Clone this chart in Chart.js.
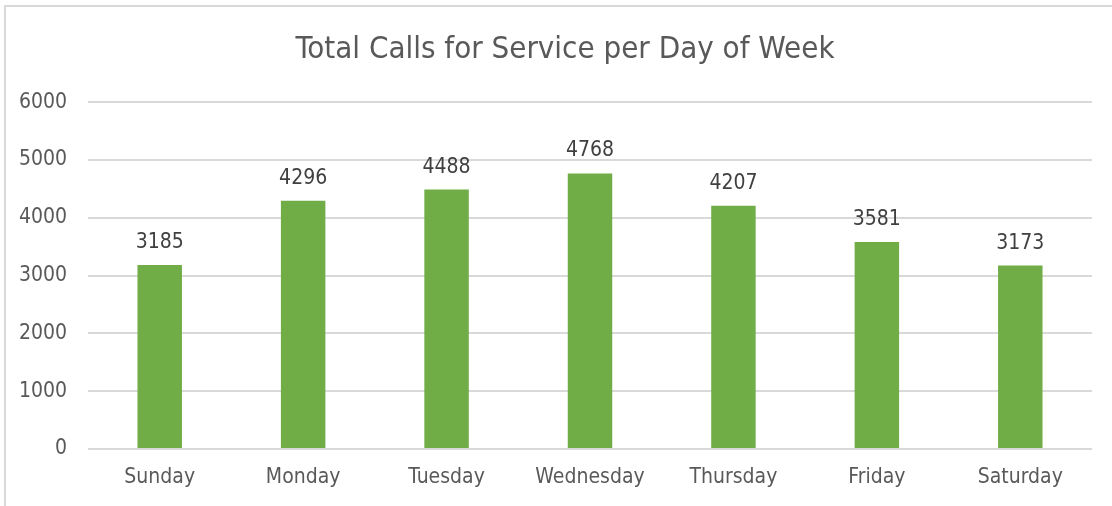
<!DOCTYPE html>
<html>
<head>
<meta charset="utf-8">
<script src="https://cdn.jsdelivr.net/npm/chart.js@4/dist/chart.umd.min.js"></script>
<style>
  html, body { margin: 0; padding: 0; background: #fff; }
  #wrap { position: relative; width: 1112px; height: 506px; }
</style>
</head>
<body>
<div id="wrap"><canvas id="calls"></canvas></div>
<script>
/*
    DATA
*/
const DAYS = ['Sunday', 'Monday', 'Tuesday', 'Wednesday', 'Thursday', 'Friday', 'Saturday'];
const CALLS = [3185, 4296, 4488, 4768, 4207, 3581, 3173];
const Y_TICKS = [0, 1000, 2000, 3000, 4000, 5000, 6000];

const FONT = '"Liberation Sans Narrow", "Arial Narrow", "DejaVu Sans Condensed", sans-serif';
const GREEN = '#70AD47';
const GRID = '#d9d9d9';

// value labels above each bar (no datalabels plugin available)
const barLabels = {
  id: 'barLabels',
  afterDatasetsDraw(chart) {
    const { ctx } = chart;
    const meta = chart.getDatasetMeta(0);
    ctx.save();
    ctx.font = `21px ${FONT}`;
    ctx.fillStyle = '#404040';
    ctx.textAlign = 'center';
    ctx.textBaseline = 'alphabetic';
    meta.data.forEach((bar, i) => {
      ctx.fillText(String(chart.data.datasets[0].data[i]), bar.x, bar.y - 17);
    });
    ctx.restore();
  }
};

// chart frame: only left and top edges are visible in the crop,
// and the title sits centred on the whole (wider) frame
const frame = {
  id: 'frame',
  afterLayout(chart) {
    if (chart.titleBlock) {
      chart.titleBlock.left += 38;
    }
  },
  beforeDraw(chart) {
    const { ctx, width, height } = chart;
    ctx.save();
    ctx.fillStyle = '#fff';
    ctx.fillRect(0, 0, width, height);
    ctx.strokeStyle = GRID;
    ctx.lineWidth = 2;
    ctx.beginPath();
    ctx.moveTo(5, height);
    ctx.lineTo(5, 6);
    ctx.lineTo(width, 6);
    ctx.stroke();
    ctx.restore();
  }
};

new Chart(document.getElementById('calls'), {
  type: 'bar',
  plugins: [frame, barLabels],
  data: {
    labels: DAYS,
    datasets: [
      {
        data: CALLS,
        backgroundColor: GREEN,
        categoryPercentage: 1,
        barPercentage: 0.31
      }
    ]
  },
  options: {
    responsive: true,
    maintainAspectRatio: false,
    animation: false,
    layout: { padding: { top: 31, right: 20, left: 0, bottom: 0 } },
    plugins: {
      legend: { display: false },
      tooltip: { enabled: false },
      title: {
        display: true,
        text: 'Total Calls for Service per Day of Week',
        color: '#595959',
        font: { family: FONT, size: 31, weight: 'normal' },
        padding: { top: 0, bottom: 34 }
      }
    },
    scales: {
      x: {
        grid: { display: false, drawTicks: false },
        border: { display: false },
        ticks: { color: '#595959', font: { family: FONT, size: 21 }, padding: 16 },
        afterFit(scale) { scale.height = 57; }
      },
      y: {
        min: 0,
        max: 6000,
        afterBuildTicks(scale) { scale.ticks = Y_TICKS.map((v) => ({ value: v })); },
        grid: { color: GRID, lineWidth: 2, drawTicks: false },
        border: { display: false },
        ticks: {
          color: '#595959',
          font: { family: FONT, size: 21 },
          padding: 21,
          callback: (v) => String(v)
        },
        afterFit(scale) { scale.width = 88; }
      }
    }
  }
});
</script>
</body>
</html>
